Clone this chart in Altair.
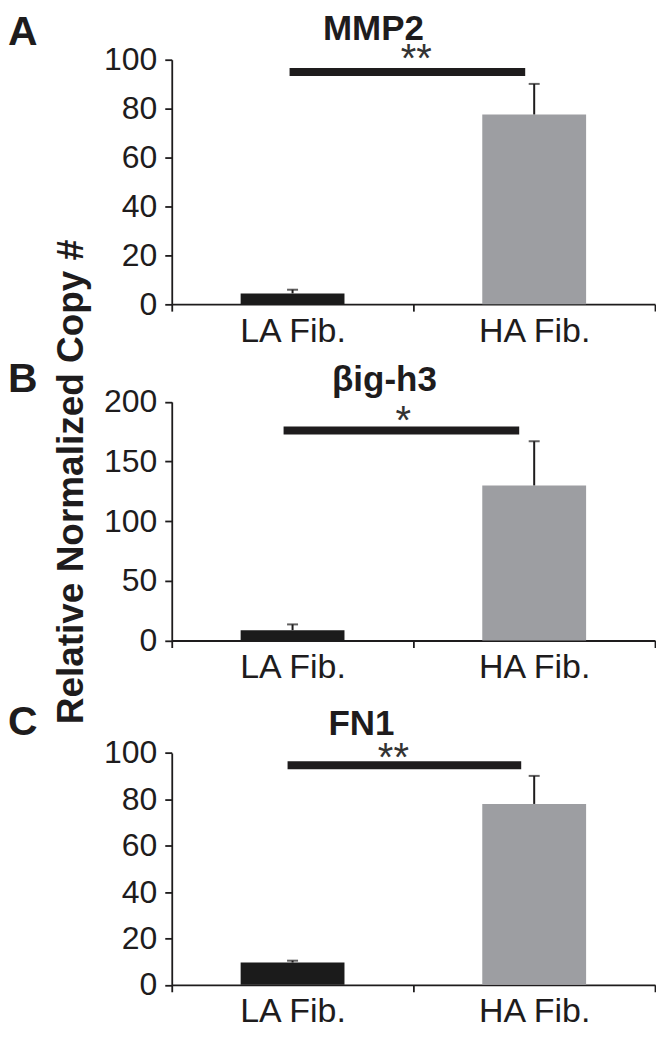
import altair as alt
import pandas as pd

# ---- data ----
categories = ["LA Fib.", "HA Fib."]
genes = ["MMP2", "βig-h3", "FN1"]
panel_letters = ["A", "B", "C"]
means = [[4.4, 77.6], [8.7, 130.0], [9.6, 78.0]]
upper = [[5.9, 90.1], [13.5, 167.0], [10.4, 90.1]]
y_max = [100, 200, 100]
y_ticks = [[0, 20, 40, 60, 80, 100], [0, 50, 100, 150, 200], [0, 20, 40, 60, 80, 100]]
sig_level = [95.0, 176.0, 94.7]
sig_stars = ["**", "*", "**"]
bar_colors = ["#1b1b1b", "#9d9ea2"]
y_title = "Relative Normalized Copy #"

# ---- layout (pixels) ----
W = 484
view_h = [266.8, 336.7, 344.5]
range_top = [22.0, 97.7, 112.3]
title_pos = [(202, 2.2), (213, 87.1), (190, 93.9)]
letter_y = [7.6, 88.0, 93.9]
sig_offsets = [(-3, -9), (-9, -15), (-5, -13)]
star_shift = [(3, -0.3), (-10, 3.4), (-20, 5.8)]
FONT = "Liberation Sans"
INK = "#1e1c1d"


def panel(i):
    h = view_h[i]
    df = pd.DataFrame({"cat": categories, "mean": means[i], "upper": upper[i]})
    ysc = alt.Scale(domain=[0, y_max[i]], range=[h, range_top[i]], nice=False)
    xsc = alt.Scale(domain=categories, paddingInner=0, paddingOuter=0)
    xenc = alt.X("cat:N", sort=categories, scale=xsc,
                 axis=alt.Axis(title=None, labelAngle=0, tickBand="extent",
                               labelFontSize=34, tickSize=7, labelPadding=3))
    yaxis = alt.Axis(title=None, values=y_ticks[i], labelFontSize=32,
                     tickSize=7, labelPadding=8, grid=False)

    bars = alt.Chart(df).mark_bar(size=104).encode(
        x=xenc,
        y=alt.Y("mean:Q", scale=ysc, axis=yaxis),
        color=alt.Color("cat:N", scale=alt.Scale(domain=categories, range=bar_colors), legend=None),
    )
    err = alt.Chart(df).mark_rule(strokeWidth=2, color=INK).encode(
        x=alt.X("cat:N", sort=categories, scale=xsc),
        y=alt.Y("mean:Q", scale=ysc),
        y2="upper:Q",
    )
    cap = alt.Chart(df).mark_tick(size=11, thickness=2, color=INK, orient="horizontal").encode(
        x=alt.X("cat:N", sort=categories, scale=xsc),
        y=alt.Y("upper:Q", scale=ysc),
    )
    sdf = pd.DataFrame({"cat": [categories[0]], "cat2": [categories[1]],
                        "lvl": [sig_level[i]], "star": [sig_stars[i]]})
    sig = alt.Chart(sdf).mark_rule(strokeWidth=8, color=INK, strokeCap="butt",
                                   xOffset=sig_offsets[i][0], x2Offset=sig_offsets[i][1]).encode(
        x=alt.X("cat:N", sort=categories, scale=xsc),
        x2="cat2:N",
        y=alt.Y("lvl:Q", scale=ysc),
    )
    stars = alt.Chart(sdf).mark_text(fontSize=40, font=FONT, color="#333", align="center",
                                     baseline="alphabetic",
                                     dx=star_shift[i][0], dy=star_shift[i][1]).encode(
        x=alt.X("cat:N", sort=categories, scale=xsc, bandPosition=1),
        y=alt.Y("lvl:Q", scale=ysc),
        text="star:N",
    )
    tdf = pd.DataFrame({"gene": [genes[i]], "letter": [panel_letters[i]]})
    title = alt.Chart(tdf).mark_text(fontSize=35, fontWeight="bold", font=FONT, color=INK,
                                     align="center", baseline="alphabetic").encode(
        text="gene:N", x=alt.value(title_pos[i][0]), y=alt.value(title_pos[i][1]))
    letter = alt.Chart(tdf).mark_text(fontSize=41, fontWeight="bold", font=FONT, color=INK,
                                      align="left", baseline="alphabetic").encode(
        text="letter:N", x=alt.value(-164), y=alt.value(letter_y[i]))
    layers = [bars, err, cap, sig, stars, title, letter]
    if i == 0:
        # invisible anchor fixing the top-left corner of the drawing
        anchor = alt.Chart(tdf).mark_rule(strokeWidth=2, opacity=0).encode(
            x=alt.value(-164), x2=alt.value(-150), y=alt.value(-29), y2=alt.value(-29))
        layers.append(anchor)
    if i == 1:
        ydf = pd.DataFrame({"t": [y_title]})
        ytxt = alt.Chart(ydf).mark_text(fontSize=37, fontWeight="bold", font=FONT, color=INK,
                                        angle=270, align="center", baseline="alphabetic").encode(
            text="t:N", x=alt.value(-89), y=alt.value(178))
        layers.append(ytxt)
    return alt.layer(*layers).properties(width=W, height=h)


chart = alt.vconcat(panel(0), panel(1), panel(2), spacing=0, bounds="flush").configure(
    padding=0
).configure_view(
    stroke=None
).configure_axis(
    labelFont=FONT, labelColor=INK, domainColor=INK, tickColor=INK,
    domainWidth=1.8, tickWidth=1.8, grid=False,
).properties(padding=0)

chart.save("out.html", embed_options={"renderer": "svg", "actions": False})
